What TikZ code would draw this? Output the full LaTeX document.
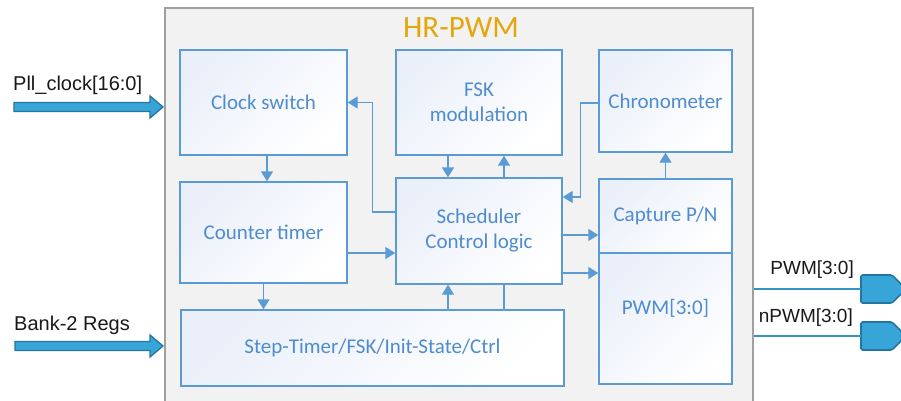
\documentclass[tikz,border=0pt]{standalone}
\usepackage{fontspec}
\setmainfont{Carlito}
\newfontfamily\arialf{Liberation Sans}
\usetikzlibrary{arrows.meta,calc}
\definecolor{bblue}{RGB}{91,155,213}
\definecolor{tblue}{RGB}{78,140,206}
\definecolor{gfill}{RGB}{242,242,242}
\definecolor{gline}{RGB}{160,160,160}
\definecolor{gold}{RGB}{228,166,12}
\definecolor{pinfill}{RGB}{56,165,216}
\definecolor{pinline}{RGB}{36,118,160}
\definecolor{shadeA}{RGB}{234,239,249}
\begin{document}
\begin{tikzpicture}[x=1pt,y=-1pt,
 blk/.style={draw=bblue, line width=1.4pt, left color=shadeA, right color=white, shading angle=45,
   text=tblue, font=\fontsize{21}{25}\selectfont, align=center, inner sep=0pt},
 txt/.style={text=tblue, font=\fontsize{21}{25}\selectfont, align=center, inner sep=0pt},
 arr/.style={draw=bblue, line width=1.4pt, -{Triangle[width=12pt,length=10pt]}},
 ln/.style={draw=bblue, line width=1.4pt},
 ext/.style={font=\arialf\fontsize{20}{24}\selectfont, text=black!90, inner sep=0pt},
 extb/.style={font=\arialf\fontsize{19}{23}\selectfont, text=black!90, inner sep=0pt},
 pinst/.style={draw=pinline, fill=pinfill, line width=1.6pt, rounded corners=1.5pt},
 wire/.style={draw=pinfill!90!black, line width=1.3pt},
 bus/.style={draw=pinline, fill=pinfill, line width=1.3pt}
]
\useasboundingbox (0,0) rectangle (901,401);
\clip (0,0) rectangle (901,401);
\fill[white] (0,0) rectangle (901,401);

% outer block
\node[draw=gline, fill=gfill, line width=2pt, minimum width=588pt, minimum height=412pt, inner sep=0pt] (hr) at (459,214) {};
\node[text=gold, font=\fontsize{31}{34}\selectfont, inner sep=0pt] (title) at (461,28) {HR-PWM};

% blocks
\node[blk, minimum width=167pt, minimum height=105pt] (clk) at (263.5,102.5) {Clock switch};
\node[blk, minimum width=166pt, minimum height=105pt] (fsk) at (479,102.5) {FSK\\modulation};
\node[blk, minimum width=133pt, minimum height=102pt] (chr) at (665.5,101) {Chronometer};
\node[blk, minimum width=167pt, minimum height=101pt] (cnt) at (263.5,232.5) {Counter timer};
\node[blk, minimum width=166pt, minimum height=106pt] (sch) at (479,231) {Scheduler\\Control logic};
\node[blk, minimum width=133pt, minimum height=74pt] (cap) at (665.5,216) {Capture P/N};
\node[blk, minimum width=133pt, minimum height=131pt] (pwmb) at (665.5,318.5) {};
\node[txt] (pwmt) at ([yshift=10pt]pwmb.center) {PWM[3:0]};
\node[blk, minimum width=383pt, minimum height=76pt] (stp) at (372.5,348) {Step-Timer/FSK/Init-State/Ctrl};

% internal connectors
\draw[arr] ([xshift=3.5pt]clk.south) -- ([xshift=3.5pt]cnt.north);
\draw[arr] (cnt.south) -- (cnt.south |- stp.north);
\coordinate (c1) at ([yshift=-20.5pt]cnt.east);
\draw[arr] (c1) -- (c1 -| sch.west);
\coordinate (s2) at ([yshift=19pt]sch.west);
\draw[arr] (s2) -| ([xshift=25pt]clk.east) -- (clk.east);
\coordinate (f1) at ([xshift=-31pt]fsk.south);
\draw[arr] (f1) -- (f1 |- sch.north);
\coordinate (f2) at ([xshift=25pt]fsk.south);
\draw[arr] (f2 |- sch.north) -- (f2);
\coordinate (s3) at ([yshift=34pt]sch.east);
\draw[arr] ([yshift=-2pt]chr.west) -| ([xshift=18pt]s3) -- (s3);
\draw[arr] (cap.north) -- (chr.south);
\coordinate (s4) at ([yshift=-4pt]sch.east);
\draw[arr] (s4) -- (s4 -| cap.west);
\coordinate (s5) at ([yshift=-42pt]sch.east);
\draw[arr] (s5) -- (s5 -| pwmb.west);
\coordinate (s6) at ([xshift=-31pt]sch.south);
\draw[arr] (s6 |- stp.north) -- (s6);
\coordinate (s7) at ([xshift=25pt]sch.south);
\draw[ln] (s7) -- (s7 |- stp.north);

% inputs
\node[ext, anchor=west] (pll) at (13,85) {Pll\_clock[16:0]};
\node[ext, anchor=west] (bank) at (14,325) {Bank-2 Regs};
\draw[bus] (14,102.5) -- (150,102.5) -- (150,96) -- (163,107) -- (150,118) -- (150,111.5) -- (14,111.5) -- cycle;
\draw[bus] (15,341.5) -- (150,341.5) -- (150,335) -- (163,346) -- (150,357) -- (150,350.5) -- (15,350.5) -- cycle;

% outputs
\node[extb, anchor=east] (pwml) at (854,270) {PWM[3:0]};
\node[extb, anchor=east] (npwml) at (853,318) {nPWM[3:0]};
\coordinate (pin1) at (861,289);
\coordinate (pin2) at (861,336);
\draw[pinst] (pin1) -- ++(0,-14) -- ++(31,0) -- ++(14,14) -- ++(-14,14) -- ++(-31,0) -- cycle;
\draw[pinst] (pin2) -- ++(0,-14) -- ++(31,0) -- ++(14,14) -- ++(-14,14) -- ++(-31,0) -- cycle;
\draw[wire] (hr.east |- pin1) -- (pin1);
\draw[wire] (hr.east |- pin2) -- (pin2);
\end{tikzpicture}
\end{document}
